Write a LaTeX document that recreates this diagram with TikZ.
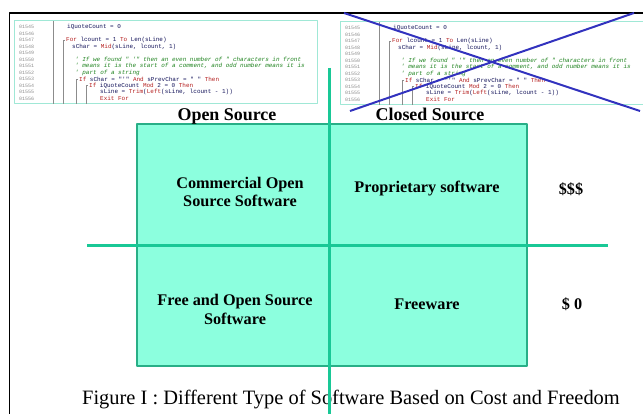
\documentclass[tikz,border=0pt]{standalone}
\usepackage{fontspec}
\setmainfont{Liberation Serif}
\newfontfamily\codefont{Liberation Mono}
\usetikzlibrary{positioning}

\definecolor{cellfill}{RGB}{140,255,222}
\definecolor{celledge}{RGB}{40,175,135}
\definecolor{axisgreen}{RGB}{25,200,150}
\definecolor{codeedge}{RGB}{160,232,214}
\definecolor{codegray}{RGB}{140,140,140}
\definecolor{codekw}{RGB}{180,30,30}
\definecolor{codecmt}{RGB}{30,130,30}
\definecolor{codetxt}{RGB}{20,20,90}
\definecolor{crossblue}{RGB}{50,50,190}

\newcommand{\kw}[1]{\textcolor{codekw}{#1}}

\tikzset{
  codeline/.style={anchor=west,inner sep=0pt,text=codetxt,font=\codefont\fontsize{6}{6}\selectfont},
  cmtline/.style={codeline,text=codecmt,font=\codefont\itshape\fontsize{6}{6}\selectfont},
  lineno/.style={anchor=west,inner sep=0pt,text=codegray,font=\codefont\fontsize{5}{5}\selectfont},
  cellbox/.style={draw=celledge,fill=cellfill,line width=1.5bp,inner sep=0pt},
  celltext/.style={align=center,inner sep=0pt,font=\bfseries\fontsize{16.3}{19}\selectfont},
  heading/.style={anchor=base,inner sep=0pt,font=\bfseries\fontsize{18}{20}\selectfont},
  quadaxis/.style={draw=axisgreen,line width=3bp},
}

% one code listing panel, #1 = name prefix
\newcommand{\codelisting}[1]{%
  \node (#1_box) at (165.5bp,351.5bp) [draw=codeedge,line width=1bp,minimum width=303bp,minimum height=83bp,inner sep=0pt] {};
  \foreach \i in {0,...,11} {
    \pgfmathtruncatemacro\num{1545+\i}
    \node (#1_n\i) at (19bp,{387bp-6.5bp*\i}) [lineno] {0\num};
  }
  \draw [codegray,line width=0.4bp] (53bp,310bp) -- (53bp,393bp);
  \draw [codegray,line width=0.4bp] (65bp,374bp) -- (63bp,374bp) -- (63bp,310bp);
  \draw [codegray,line width=0.4bp] (78bp,335bp) -- (76bp,335bp) -- (76bp,310bp);
  \draw [codegray,line width=0.4bp] (88bp,328.5bp) -- (86bp,328.5bp) -- (86bp,310bp);
  \node (#1_l0) at (67bp,387bp) [codeline] {iQuoteCount = 0};
  \node (#1_l2) at (66bp,374bp) [codeline] {\kw{For} lcount = 1 \kw{To} Len(sLine)};
  \node (#1_l3) at (72bp,367.5bp) [codeline] {sChar = \kw{Mid}(sLine, lcount, 1)};
  \node (#1_l5) at (75bp,354.5bp) [cmtline] {' If we found " '" then an even number of " characters in front};
  \node (#1_l6) at (75bp,348bp) [cmtline] {' means it is the start of a comment, and odd number means it is};
  \node (#1_l7) at (75bp,341.5bp) [cmtline] {' part of a string};
  \node (#1_l8) at (79bp,335bp) [codeline] {\kw{If} sChar = "'" \kw{And} sPrevChar = " " \kw{Then}};
  \node (#1_l9) at (89bp,328.5bp) [codeline] {\kw{If} iQuoteCount \kw{Mod} 2 = 0 \kw{Then}};
  \node (#1_l10) at (100bp,322bp) [codeline] {sLine = \kw{Trim}(\kw{Left}(sLine, lcount - 1))};
  \node (#1_l11) at (100bp,315.5bp) [codeline] {\kw{Exit For}};
}

\begin{document}
\begin{tikzpicture}[>=latex,line join=bevel,]
\useasboundingbox (0bp,0bp) rectangle (643bp,414bp);
\clip (0bp,0bp) rectangle (643bp,414bp);
%% frame
\draw [black,line width=1.5bp] (9.5bp,0bp) -- (9.5bp,401bp) -- (650bp,401bp);
%% code panels
\codelisting{os}
\begin{scope}[shift={(326bp,-1bp)}]
\codelisting{cs}
\end{scope}
\coordinate (x_a1) at (344bp,401bp);
\coordinate (x_a2) at (640bp,303bp);
\coordinate (x_b1) at (350bp,303bp);
\coordinate (x_b2) at (634bp,401bp);
\draw [crossblue,line width=2bp] (x_a1) -- (x_a2);
\draw [crossblue,line width=2bp] (x_b1) -- (x_b2);
%% quadrant
\node (quad) at (332bp,169bp) [cellbox,minimum width=390bp,minimum height=242bp] {};
\node (open_hdr) at (227bp,293bp) [heading] {Open Source};
\node (closed_hdr) at (430bp,293bp) [heading] {Closed Source};
\node (coss) at (240bp,222bp) [celltext] {Commercial Open\\Source Software};
\node (prop) at (427bp,225bp) [celltext] {Proprietary software};
\node (cost_hi) at (571bp,225bp) [celltext] {\$\$\$};
\node (foss) at (235bp,105bp) [celltext] {Free and Open Source\\Software};
\node (free) at (427bp,110bp) [celltext] {Freeware};
\node (cost_lo) at (572bp,110bp) [celltext] {\$ 0};
\node (caption) at (351bp,14bp) [inner sep=0pt,font=\fontsize{20.5}{23}\selectfont] {Figure I : Different Type of Software Based on Cost and Freedom};
%
\coordinate (v_top) at (329bp,346bp);
\coordinate (v_bot) at (329bp,0bp);
\coordinate (h_left) at (87bp,168bp);
\coordinate (h_right) at (608bp,168bp);
\draw [quadaxis] (v_top) -- (v_bot);
\draw [quadaxis] (h_left) -- (h_right);
%
\end{tikzpicture}
\end{document}
